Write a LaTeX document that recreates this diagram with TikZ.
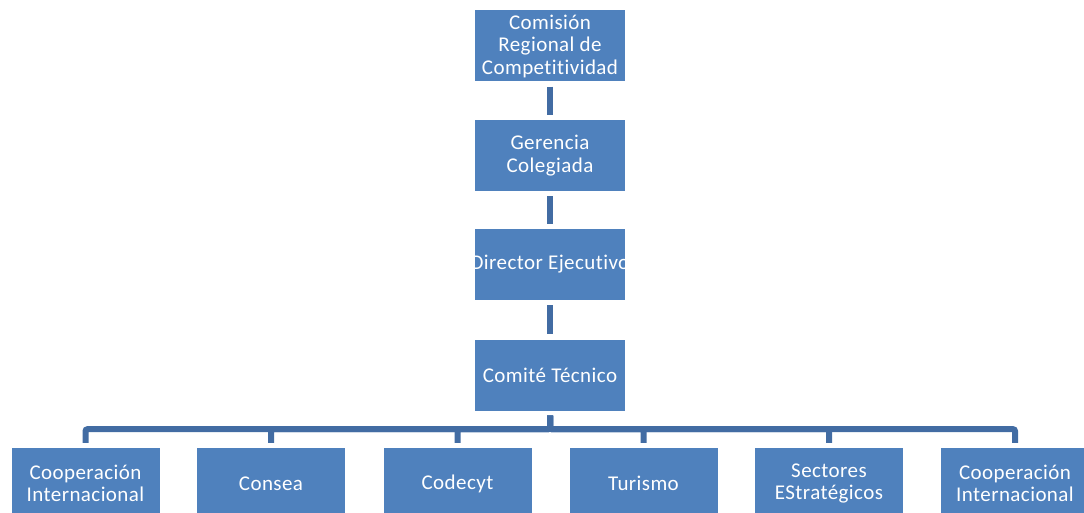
\documentclass[tikz,border=0pt]{standalone}
\usepackage{fontspec}
\setmainfont{Carlito}[LetterSpace=2, Ligatures={NoCommon}]
\definecolor{boxblue}{RGB}{79,129,189}
\definecolor{linkblue}{RGB}{66,108,163}
\begin{document}
\begin{tikzpicture}[x=1pt,y=-1pt,
  unit/.style={fill=boxblue, draw=none, minimum width=150pt, minimum height=71pt,
    inner sep=0pt, align=center, text=white,
    font=\fontsize{21}{22.5}\selectfont},
  link/.style={draw=linkblue, line width=6pt, rounded corners=2pt,
    shorten <=5pt, shorten >=5pt}]
\useasboundingbox (0,0) rectangle (1084,513);
\clip (0,0) rectangle (1084,513);
% chain of command
\node[unit] (crc) at (550,46) {Comisión\\Regional de\\Competitividad};
\node[unit] (gc)  at (550,155.5) {Gerencia\\Colegiada};
\node[unit] (de)  at (550,264.5) {\makebox[150pt][c]{Director Ejecutivo}};
\node[unit] (ct)  at (550,375) {Comité Técnico};
% working groups
\node[unit, minimum width=148pt] (g1) at (85.5,483.5) {Cooperación\\Internacional};
\node[unit, minimum width=148pt] (g2) at (271,483.5) {Consea};
\node[unit, minimum width=148pt] (g3) at (457.5,483.5) {Codecyt};
\node[unit, minimum width=148pt] (g4) at (643.5,483.5) {Turismo};
\node[unit, minimum width=148pt] (g5) at (829,483.5) {Sectores\\EStratégicos};
\node[unit, minimum width=148pt] (g6) at (1015,483.5) {Cooperación\\Internacional};
% connectors
\draw[link] (crc.south) -- (gc.north);
\draw[link] (gc.south) -- (de.north);
\draw[link] (de.south) -- (ct.north);
\foreach \g in {g1,g2,g3,g4,g5,g6}
  \draw[link] (ct.south) -- ++(0,18.5) -| (\g.north);
\end{tikzpicture}
\end{document}
